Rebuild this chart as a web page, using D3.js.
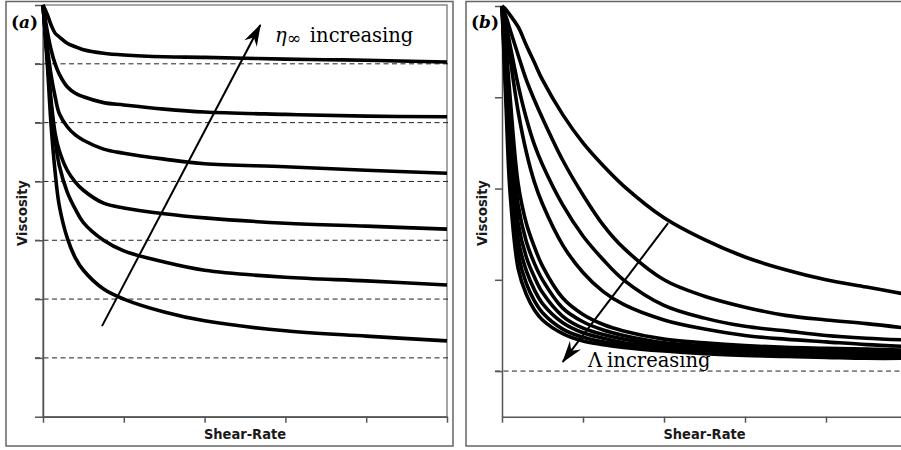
<!DOCTYPE html>
<html>
<head>
<meta charset="utf-8">
<script src="https://cdn.jsdelivr.net/npm/d3@7"></script>
<style>
  body { margin: 0; background: #fff; }
  svg { display: block; }
</style>
</head>
<body>
<div id="chart"></div>
<script>
// =========================
// DATA
// =========================
const xTicks = [0, 1, 2, 3, 4, 5];
const yTicksA = [0, 1, 2, 3, 4, 5, 6, 7];
const yTicksB = [1, 2, 3, 4, 5];

// panel (a): eta_inf increasing
const shearA = [0, 0.05, 0.1, 0.15, 0.2, 0.3, 0.4, 0.5, 0.75, 1, 1.5, 2, 3, 4, 5];
const etaInfA = [1, 2, 3, 4, 5, 6];
const viscA1 = [7, 6.07, 4.96, 4.16, 3.60, 3.04, 2.70, 2.49, 2.17, 2.00, 1.78, 1.63, 1.46, 1.37, 1.29];
const viscA2 = [7, 6.15, 5.30, 4.70, 4.28, 3.82, 3.53, 3.30, 3.00, 2.82, 2.63, 2.49, 2.37, 2.31, 2.24];
const viscA3 = [7, 6.15, 5.38, 4.82, 4.53, 4.19, 3.99, 3.85, 3.63, 3.55, 3.45, 3.38, 3.29, 3.24, 3.19];
const viscA4 = [7, 6.32, 5.81, 5.44, 5.16, 4.93, 4.79, 4.70, 4.55, 4.48, 4.38, 4.30, 4.25, 4.19, 4.14];
const viscA5 = [7, 6.58, 6.24, 6.00, 5.83, 5.61, 5.50, 5.44, 5.34, 5.30, 5.23, 5.18, 5.14, 5.11, 5.10];
const viscA6 = [7, 6.85, 6.66, 6.52, 6.46, 6.35, 6.29, 6.24, 6.18, 6.15, 6.12, 6.11, 6.08, 6.06, 6.03];

// panel (b): Lambda increasing
const shearB = [0, 0.05, 0.1, 0.2, 0.3, 0.4, 0.5, 0.75, 1, 1.25, 1.5, 2, 2.5, 3, 3.5, 4, 4.5, 5];
const etaInfB = [1];
const viscB1  = [5, 4.96, 4.90, 4.77, 4.57, 4.38, 4.19, 3.81, 3.50, 3.25, 3.03, 2.68, 2.44, 2.25, 2.11, 2.00, 1.92, 1.84];
const viscB2  = [5, 4.88, 4.74, 4.46, 4.19, 3.97, 3.77, 3.31, 2.93, 2.60, 2.35, 2.00, 1.82, 1.70, 1.61, 1.56, 1.52, 1.47];
const viscB3  = [5, 4.80, 4.57, 4.13, 3.77, 3.48, 3.26, 2.82, 2.48, 2.22, 2.00, 1.72, 1.58, 1.49, 1.44, 1.39, 1.36, 1.34];
const viscB4  = [5, 4.74, 4.43, 3.84, 3.40, 3.07, 2.83, 2.38, 2.08, 1.87, 1.73, 1.56, 1.46, 1.39, 1.35, 1.32, 1.29, 1.27];
const viscB5  = [5, 4.55, 4.00, 3.05, 2.62, 2.36, 2.15, 1.80, 1.62, 1.51, 1.44, 1.35, 1.31, 1.28, 1.26, 1.25, 1.24, 1.23];
const viscB6  = [5, 4.45, 3.80, 2.82, 2.42, 2.18, 2.00, 1.69, 1.54, 1.45, 1.39, 1.31, 1.28, 1.26, 1.24, 1.23, 1.22, 1.21];
const viscB7  = [5, 4.33, 3.58, 2.62, 2.25, 2.03, 1.86, 1.60, 1.47, 1.40, 1.35, 1.28, 1.25, 1.23, 1.22, 1.21, 1.20, 1.19];
const viscB8  = [5, 4.20, 3.38, 2.44, 2.10, 1.89, 1.74, 1.53, 1.42, 1.36, 1.31, 1.26, 1.23, 1.21, 1.20, 1.19, 1.18, 1.17];
const viscB9  = [5, 4.05, 3.16, 2.28, 1.96, 1.77, 1.64, 1.46, 1.37, 1.32, 1.28, 1.24, 1.21, 1.19, 1.18, 1.17, 1.16, 1.16];
const viscB10 = [5, 3.90, 2.95, 2.12, 1.84, 1.67, 1.56, 1.41, 1.33, 1.29, 1.26, 1.22, 1.19, 1.17, 1.16, 1.15, 1.14, 1.14];

const curvesA = [viscA1, viscA2, viscA3, viscA4, viscA5, viscA6];
const curvesB = [viscB1, viscB2, viscB3, viscB4, viscB5, viscB6, viscB7, viscB8, viscB9, viscB10];

// =========================
// SVG
// =========================
const svg = d3.select("#chart")
    .append("svg")
    .attr("width", 901)
    .attr("height", 450);

svg.append("rect").attr("width", 901).attr("height", 450).attr("fill", "#fff");

const defs = svg.append("defs");
defs.append("marker")
    .attr("id", "head")
    .attr("viewBox", "-24 -9 26 18")
    .attr("refX", 0).attr("refY", 0)
    .attr("markerWidth", 26).attr("markerHeight", 18)
    .attr("markerUnits", "userSpaceOnUse")
    .attr("orient", "auto")
    .append("path")
    .attr("d", "M1,0 L-21,-7 L-14,0 L-21,7 Z")
    .attr("fill", "#000");

// outer boxes
svg.append("rect")
    .attr("x", 6).attr("y", 1.5).attr("width", 447).attr("height", 444.5)
    .attr("fill", "none").attr("stroke", "#666").attr("stroke-width", 1.5);
svg.append("rect")
    .attr("x", 466).attr("y", 1.5).attr("width", 460).attr("height", 444.5)
    .attr("fill", "none").attr("stroke", "#666").attr("stroke-width", 1.5);

function styleAxis(g) {
    g.selectAll("path, line").attr("stroke", "#555").attr("stroke-width", 1.5);
}

function axisLabels(left, mid) {
    svg.append("text")
        .attr("transform", `translate(${left},213) rotate(-90)`)
        .attr("text-anchor", "middle")
        .attr("font-family", "'DejaVu Sans Condensed', 'DejaVu Sans'")
        .attr("font-stretch", "condensed")
        .attr("font-weight", "bold")
        .attr("font-size", 14.5)
        .attr("fill", "#1a1a1a")
        .text("Viscosity");
    svg.append("text")
        .attr("x", mid).attr("y", 439)
        .attr("text-anchor", "middle")
        .attr("font-family", "'DejaVu Sans Condensed', 'DejaVu Sans'")
        .attr("font-stretch", "condensed")
        .attr("font-weight", "bold")
        .attr("font-size", 14.5)
        .attr("fill", "#1a1a1a")
        .text("Shear-Rate");
}

function panelLabel(x, letter) {
    const t = svg.append("text")
        .attr("x", x).attr("y", 28)
        .attr("font-family", "DejaVu Serif")
        .attr("font-size", 17)
        .attr("font-weight", "bold");
    t.append("tspan").text("(");
    t.append("tspan").attr("font-style", "italic").text(letter);
    t.append("tspan").text(")");
}

// =========================
// PANEL (a)
// =========================
const xA = d3.scaleLinear().domain([0, 5]).range([43, 447]);
const yA = d3.scaleLinear().domain([0, 7]).range([416.7, 5]);

svg.append("rect")
    .attr("x", xA(0)).attr("y", yA(7))
    .attr("width", xA(5) - xA(0)).attr("height", yA(0) - yA(7))
    .attr("fill", "none").attr("stroke", "#777").attr("stroke-width", 1.3);

svg.selectAll(".dashA")
    .data(etaInfA)
    .enter()
    .append("line")
    .attr("x1", xA(0) - 8).attr("x2", xA(5) + 4)
    .attr("y1", d => yA(d)).attr("y2", d => yA(d))
    .attr("stroke", "#222").attr("stroke-width", 1)
    .attr("stroke-dasharray", "5,3.5");

svg.append("g")
    .attr("transform", `translate(${xA(0)},0)`)
    .call(d3.axisLeft(yA).tickValues(yTicksA).tickSize(8).tickSizeOuter(0).tickFormat(""))
    .call(styleAxis);
svg.append("g")
    .attr("transform", `translate(0,${yA(0)})`)
    .call(d3.axisBottom(xA).tickValues(xTicks).tickSize(6).tickSizeOuter(0).tickFormat(""))
    .call(styleAxis);

const lineA = d3.line()
    .x((d, i) => xA(shearA[i]))
    .y(d => yA(d))
    .curve(d3.curveCatmullRom.alpha(0.5));

svg.selectAll(".curveA")
    .data(curvesA)
    .enter()
    .append("path")
    .attr("d", lineA)
    .attr("fill", "none")
    .attr("stroke", "#000")
    .attr("stroke-width", 3.6);

svg.append("line")
    .attr("x1", xA(0.73)).attr("y1", yA(1.54))
    .attr("x2", xA(2.69)).attr("y2", yA(6.66))
    .attr("stroke", "#000").attr("stroke-width", 2)
    .attr("marker-end", "url(#head)");

const tA = svg.append("text")
    .attr("x", 275).attr("y", 42)
    .attr("font-family", "DejaVu Serif")
    .attr("font-size", 19.5)
    .attr("fill", "#000");
tA.append("tspan").attr("font-style", "italic").text("η");
tA.append("tspan").attr("font-size", 17).attr("dy", 2).text("∞");
tA.append("tspan").attr("dy", -2).attr("dx", 9).text("increasing");

panelLabel(11, "a");
axisLabels(27, (xA(0) + xA(5)) / 2);

// =========================
// PANEL (b)
// =========================
const xB = d3.scaleLinear().domain([0, 5]).range([502, 907]);
const yB = d3.scaleLinear().domain([0.5, 5]).range([416.7, 6]);

svg.selectAll(".dashB")
    .data(etaInfB)
    .enter()
    .append("line")
    .attr("x1", xB(0) - 7).attr("x2", 905)
    .attr("y1", d => yB(d)).attr("y2", d => yB(d))
    .attr("stroke", "#222").attr("stroke-width", 1)
    .attr("stroke-dasharray", "5,3.5");

svg.append("g")
    .attr("transform", `translate(${xB(0)},0)`)
    .call(d3.axisLeft(yB).tickValues(yTicksB).tickSize(7).tickSizeOuter(0).tickFormat(""))
    .call(styleAxis);
svg.append("g")
    .attr("transform", `translate(0,${yB(0.5)})`)
    .call(d3.axisBottom(xB).tickValues(xTicks).tickSize(6).tickSizeOuter(0).tickFormat(""))
    .call(styleAxis);

const lineB = d3.line()
    .x((d, i) => xB(shearB[i]))
    .y(d => yB(d))
    .curve(d3.curveCatmullRom.alpha(0.5));

svg.selectAll(".curveB")
    .data(curvesB)
    .enter()
    .append("path")
    .attr("d", lineB)
    .attr("fill", "none")
    .attr("stroke", "#000")
    .attr("stroke-width", 3.6);

svg.append("line")
    .attr("x1", xB(2.05)).attr("y1", yB(2.62))
    .attr("x2", xB(0.75)).attr("y2", yB(1.10))
    .attr("stroke", "#000").attr("stroke-width", 2)
    .attr("marker-end", "url(#head)");

const tB = svg.append("text")
    .attr("x", 588).attr("y", 367)
    .attr("font-family", "DejaVu Serif")
    .attr("font-size", 19.5)
    .attr("fill", "#000");
tB.append("tspan").text("Λ");
tB.append("tspan").attr("dx", 5).text("increasing");

panelLabel(471, "b");
axisLabels(487, (xB(0) + xB(5)) / 2);
</script>
</body>
</html>
